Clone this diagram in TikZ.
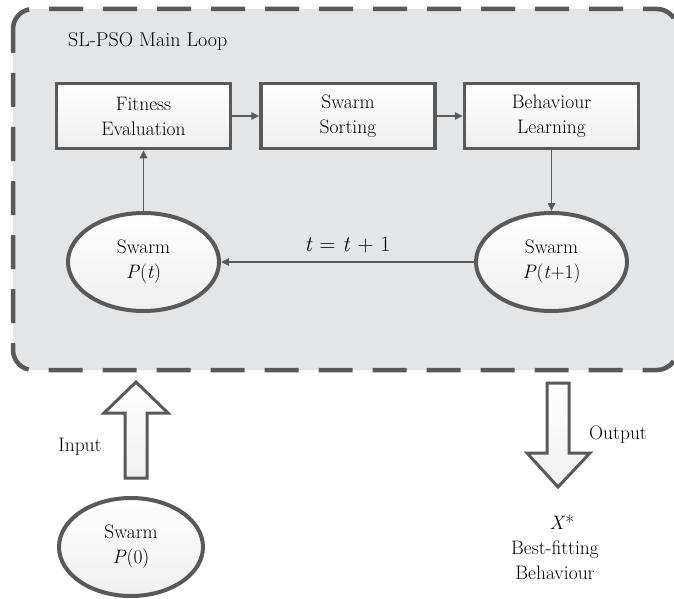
\documentclass[tikz,border=0pt]{standalone}
\usepackage{fontspec}
\usetikzlibrary{shapes.geometric,arrows.meta}
\definecolor{edge}{HTML}{595959}
\definecolor{panel}{HTML}{E4E5E7}
\definecolor{boxlow}{HTML}{EFEFEF}
\definecolor{arrowlow}{HTML}{F0F0F0}
\tikzset{
  txt/.style={font=\fontsize{19.5}{25}\selectfont, text=black, align=center, inner sep=0pt},
  stepbox/.style={txt, draw=edge, line width=3.5pt, rectangle, minimum width=174pt, minimum height=65pt, top color=white, bottom color=boxlow},
  swarm/.style={txt, draw=edge, line width=4pt, ellipse, minimum width=151pt, minimum height=98pt, top color=white, bottom color=boxlow},
  conn/.style={draw=edge, line width=1.3pt, -{Triangle[length=8pt,width=7.5pt]}},
  blockarrow/.style={draw=edge, line width=3pt, line join=miter, top color=white, bottom color=arrowlow},
}
\begin{document}
\begin{tikzpicture}[x=1pt,y=-1pt]
\useasboundingbox (0,0) rectangle (674,599);
% main loop panel
\draw[draw=edge, fill=panel, line width=4.5pt, rounded corners=20pt, dash pattern=on 34pt off 20pt, dash phase=10pt]
  (13,9) rectangle (677,370);
\node[txt, anchor=base west, font=\fontsize{20}{25}\selectfont] (title) at (68,47) {SL-PSO Main Loop};
% process boxes
\node[stepbox] (fit) at (143.5,116) {Fitness\\Evaluation};
\node[stepbox] (sort) at (348,116) {Swarm\\Sorting};
\node[stepbox] (beh) at (551.5,116) {Behaviour\\Learning};
% swarms
\node[swarm] (pt) at (143.5,262) {Swarm\\\textit{P}(\textit{t})};
\node[swarm] (pt1) at (551.5,262) {Swarm\\\textit{P}(\textit{t}+1)};
\node[swarm, minimum width=144pt] (p0) at (131,547) {Swarm\\\textit{P}(0)};
% connectors
\draw[conn] (fit) -- (sort);
\draw[conn] (sort) -- (beh);
\draw[conn] (beh) -- (pt1);
\draw[conn] (pt) -- (fit);
\draw[conn] (pt1) -- node[txt, above=8pt, font=\fontsize{22}{27}\selectfont] (inc) {\textit{t}\hspace{7pt}=\hspace{7pt}\textit{t}\hspace{7pt}+\hspace{7pt}1} (pt);
% input / output block arrows
\draw[blockarrow] (136,382) -- (168,413) -- (147,413) -- (147,478) -- (125,478) -- (125,413) -- (104,413) -- cycle;
\draw[blockarrow] (547,383) -- (569,383) -- (569,453) -- (590,453) -- (558,487) -- (527,453) -- (547,453) -- cycle;
\node[txt] (inlab) at (80,447) {Input};
\node[txt] (outlab) at (618,435) {Output};
\node[txt] (res) at (555,547) {\hspace{14pt}\textit{X}*\\Best-fitting\\Behaviour};
\end{tikzpicture}
\end{document}
